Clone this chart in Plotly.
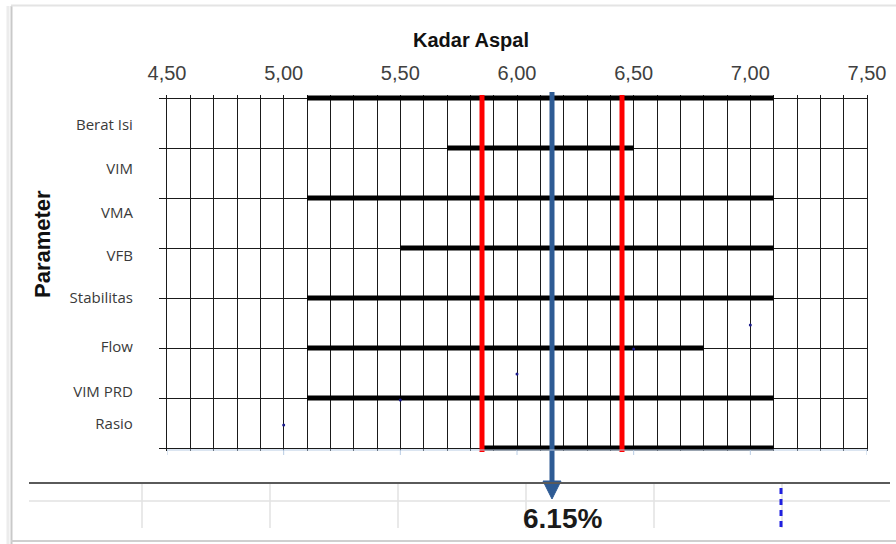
import plotly.graph_objects as go

# ---------------- data ----------------
params = ["Berat Isi", "VIM", "VMA", "VFB", "Stabilitas", "Flow", "VIM PRD", "Rasio"]
range_start = [5.10, 5.70, 5.10, 5.50, 5.10, 5.10, 5.10, 5.85]
range_end = [7.10, 6.50, 7.10, 7.10, 7.10, 6.80, 7.10, 7.10]
limit_lines = [5.85, 6.45]
optimum = 6.15
dot_x = [5.00, 5.50, 6.00, 6.50, 7.00]
dot_y = [6.54, 6.04, 5.52, 5.02, 4.54]
x_ticks = [4.50, 5.00, 5.50, 6.00, 6.50, 7.00, 7.50]
row_lines = [0, 1, 2, 3, 4, 5, 6, 7]
label_pos = [0.54, 1.42, 2.30, 3.16, 4.00, 4.98, 5.88, 6.52]

# ---------------- geometry helpers ----------------
W, H = 896, 544
def px(x):
    return x / W
def py(y):
    return 1 - y / H

L, R = 167, 867
TOP_PAD, BOT_PAD = 95, 451   # 98..448 px is rows 0..7, 3px padding

fig = go.Figure()

# range segments
seg_x, seg_y = [], []
for i, (s, e) in enumerate(zip(range_start, range_end)):
    seg_x += [s, e, None]
    seg_y += [row_lines[i], row_lines[i], None]
fig.add_trace(go.Scatter(x=seg_x, y=seg_y, mode="lines",
                         line=dict(color="#000000", width=5),
                         hoverinfo="skip", showlegend=False))

# small dots
fig.add_trace(go.Scatter(x=dot_x, y=dot_y, mode="markers",
                         marker=dict(color="#1a1a8c", size=3),
                         hoverinfo="skip", showlegend=False))

shapes = []
# red limit lines
for v in limit_lines:
    shapes.append(dict(type="line", xref="x", yref="paper", x0=v, x1=v,
                       y0=py(452), y1=py(95), line=dict(color="#ff0000", width=5)))
# blue optimum line + arrowhead
blue = "#2e5b94"
shapes.append(dict(type="line", xref="x", yref="paper", x0=optimum, x1=optimum,
                   y0=py(483), y1=py(92), line=dict(color=blue, width=5)))
hw = 9 / 233.4
shapes.append(dict(type="path", xref="x", yref="paper",
                   path=f"M {optimum-hw},{py(481)} L {optimum+hw},{py(481)} L {optimum},{py(499)} Z",
                   fillcolor=blue, line=dict(color=blue, width=1)))
# faint blue bottom axis
shapes.append(dict(type="line", xref="paper", yref="paper", x0=px(L), x1=px(R + 1),
                   y0=py(450), y1=py(450), line=dict(color="#b8cce4", width=1)))
for t in x_ticks:
    shapes.append(dict(type="line", xref="x", yref="paper", x0=t, x1=t,
                       y0=py(450), y1=py(455), line=dict(color="#b8cce4", width=1)))

# bottom table decoration
shapes.append(dict(type="line", xref="paper", yref="paper", x0=px(29), x1=px(890),
                   y0=py(483), y1=py(483), line=dict(color="#5a5a5a", width=2)))
shapes.append(dict(type="line", xref="paper", yref="paper", x0=px(29), x1=px(890),
                   y0=py(501), y1=py(501), line=dict(color="#e2e2e2", width=1.5)))
for xx in range(142, 800, 128):
    shapes.append(dict(type="line", xref="paper", yref="paper", x0=px(xx), x1=px(xx),
                       y0=py(484), y1=py(528), line=dict(color="#e2e2e2", width=1.5)))
shapes.append(dict(type="line", xref="paper", yref="paper", x0=px(781), x1=px(781),
                   y0=py(488), y1=py(528), line=dict(color="#1f1fe0", width=3, dash="6px,5px")))

# frame / shadow
shapes.append(dict(type="line", xref="paper", yref="paper", x0=px(8), x1=px(8),
                   y0=py(6), y1=py(544), line=dict(color="#ececec", width=3)))
shapes.append(dict(type="line", xref="paper", yref="paper", x0=px(11.5), x1=px(11.5),
                   y0=py(6), y1=py(544), line=dict(color="#c9c9c9", width=2)))
shapes.append(dict(type="line", xref="paper", yref="paper", x0=px(11), x1=px(896),
                   y0=py(5.5), y1=py(5.5), line=dict(color="#e4e4e4", width=2)))
shapes.append(dict(type="line", xref="paper", yref="paper", x0=px(11), x1=px(896),
                   y0=py(541), y1=py(541), line=dict(color="#cfcfcf", width=2)))

annotations = [
    dict(text="<b>Kadar Aspal</b>", xref="paper", yref="paper", x=px(471), y=py(40),
         xanchor="center", yanchor="middle", showarrow=False,
         font=dict(family="Liberation Sans, Arial", size=20, color="#111111")),
    dict(text="<b>Parameter</b>", xref="paper", yref="paper", x=px(43), y=py(244),
         xanchor="center", yanchor="middle", textangle=-90, showarrow=False,
         font=dict(family="Liberation Sans, Arial", size=22, color="#111111")),
    dict(text=f"<b>{optimum:.2f}%</b>", xref="x", yref="paper", x=optimum + 0.045, y=py(518),
         xanchor="center", yanchor="middle", showarrow=False,
         font=dict(family="Liberation Sans, Arial", size=28, color="#1a1a1a")),
]

fig.update_layout(
    width=W, height=H, margin=dict(l=0, r=0, t=0, b=0, autoexpand=False),
    paper_bgcolor="white", plot_bgcolor="white",
    separators=",.",
    shapes=shapes, annotations=annotations, showlegend=False,
    xaxis=dict(domain=[px(L), px(R)], range=[4.5, 7.5], side="top", automargin=False,
               tickvals=x_ticks, tickformat=".2f", ticks="",
               tickfont=dict(family="Liberation Sans, Arial", size=20, color="#404040"),
               ticklabelstandoff=10,
               showgrid=True, gridcolor="#1a1a1a", gridwidth=1,
               minor=dict(dtick=0.1, tick0=4.5, showgrid=True, gridcolor="#1a1a1a", gridwidth=1),
               showline=False, zeroline=False, fixedrange=True),
    yaxis=dict(domain=[py(BOT_PAD), py(TOP_PAD)], range=[7.06, -0.06], automargin=False,
               tickvals=label_pos, ticktext=params, ticks="",
               tickfont=dict(family="Open Sans", size=15, color="#3a3a3a"),
               ticklabelstandoff=30,
               showgrid=False,
               minor=dict(tickvals=row_lines, showgrid=True, gridcolor="#1a1a1a", gridwidth=1.2,
                          ticks="outside", ticklen=7, tickcolor="#1a1a1a", tickwidth=1.2),
               showline=True, mirror=True, linecolor="#1a1a1a", linewidth=1.2,
               zeroline=False, fixedrange=True),
)

fig.write_html("out.html", config={"displayModeBar": False},
               post_script="document.body.style.margin='0px';document.body.style.overflow='hidden';")
